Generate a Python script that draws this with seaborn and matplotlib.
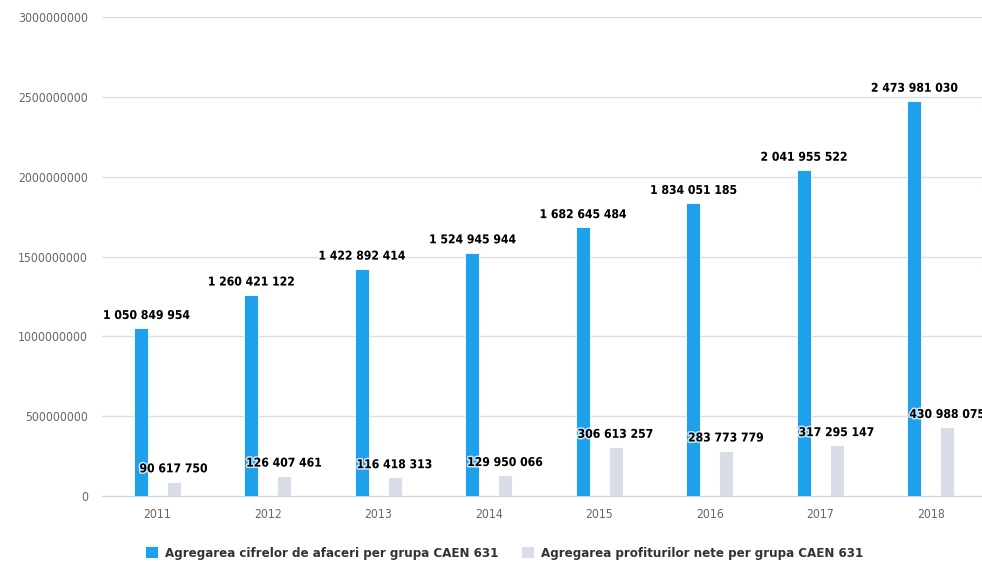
import matplotlib
matplotlib.use("Agg")
import matplotlib.pyplot as plt
import matplotlib.patheffects as pe
import seaborn as sns
import pandas as pd

years = ["2011", "2012", "2013", "2014", "2015", "2016", "2017", "2018"]
cifra_afaceri = [1050849954, 1260421122, 1422892414, 1524945944,
                 1682645484, 1834051185, 2041955522, 2473981030]
profit_net = [90617750, 126407461, 116418313, 129950066,
              306613257, 283773779, 317295147, 430988075]
series_names = ["Agregarea cifrelor de afaceri per grupa CAEN 631",
                "Agregarea profiturilor nete per grupa CAEN 631"]
colors = ["#1fa0eb", "#d9dde7"]
yticks = [0, 500000000, 1000000000, 1500000000, 2000000000, 2500000000, 3000000000]

df = pd.DataFrame({
    "an": years * 2,
    "valoare": cifra_afaceri + profit_net,
    "serie": [series_names[0]] * len(years) + [series_names[1]] * len(years),
})

sns.set_style("white")
plt.rcParams["font.family"] = ["DejaVu Sans"]
plt.rcParams["font.stretch"] = "condensed"

fig = plt.figure(figsize=(9.82, 5.62), dpi=100)
ax = fig.add_axes([102 / 982, 66 / 562, 884 / 982, 479 / 562])

sns.barplot(data=df, x="an", y="valoare", hue="serie", hue_order=series_names,
            palette=colors, saturation=1, width=0.59, gap=0.57,
            edgecolor="white", linewidth=0.6, ax=ax, zorder=3)

ax.set_xlim(-0.5, 7.5)
ax.set_ylim(0, 3000000000)
ax.set_yticks(yticks)
ax.set_yticklabels([str(v) for v in yticks])
ax.yaxis.grid(True, color="#d9dde6", linewidth=1, zorder=0)
ax.set_xlabel("")
ax.set_ylabel("")
for s in ["top", "right", "left"]:
    ax.spines[s].set_visible(False)
ax.spines["bottom"].set_color("#ccd6e6")
ax.tick_params(axis="y", length=0, labelsize=8.7, labelcolor="#666666", pad=10)
ax.tick_params(axis="x", length=0, labelsize=8.7, labelcolor="#666666", pad=9)
ax.set_xticks([i + 0.5 for i in range(7)], minor=True)
ax.tick_params(axis="x", which="minor", length=8.5, color="#ccd6e6", width=1)

halo = [pe.withStroke(linewidth=2.2, foreground="white", alpha=0.75)]
labels = []
for container in ax.containers:
    for bar in container:
        h = bar.get_height()
        t = ax.annotate(f"{int(h):,}".replace(",", " "),
                        (bar.get_x() + bar.get_width() / 2, h),
                        xytext=(0, 4.5), textcoords="offset points",
                        ha="center", va="bottom", fontsize=8.7, fontweight="bold",
                        color="black", path_effects=halo, zorder=5,
                        annotation_clip=False)
        labels.append(t)

# keep labels from running past the left edge of the plot
fig.canvas.draw()
left = ax.get_window_extent().x0
for t in labels:
    x0 = t.get_window_extent().x0
    if x0 < left:
        t.xyann = ((left - x0 + 1) * 72 / fig.dpi, 4.5)

leg = ax.legend(loc="center", bbox_to_anchor=(0.455, -0.119),
                ncol=2, frameon=False, handlelength=1.0, handleheight=1.0,
                handletextpad=0.55, columnspacing=1.7,
                prop={"weight": "bold", "size": 9.5, "stretch": "condensed"})
for t in leg.get_texts():
    t.set_color("#333333")

fig.savefig("out.png", dpi=100)
